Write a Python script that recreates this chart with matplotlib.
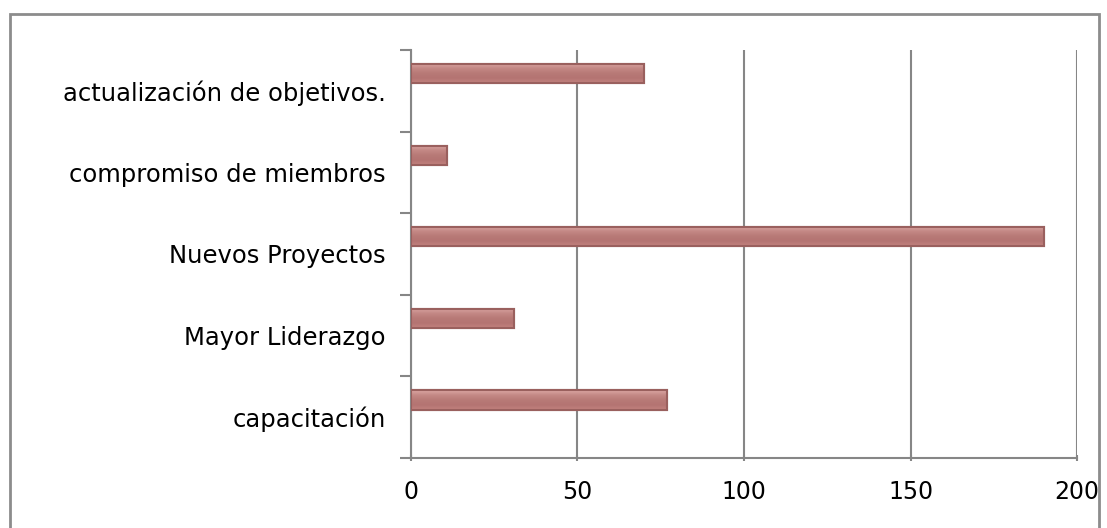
import matplotlib.pyplot as plt
import matplotlib.patches as patches
from matplotlib.colors import LinearSegmentedColormap
import numpy as np

# categories bottom to top, as they appear on the chart
categorias = ["capacitación", "Mayor Liderazgo", "Nuevos Proyectos",
              "compromiso de miembros", "actualización de objetivos."]
valores = [77, 31, 190, 11, 70]
xticks = [0, 50, 100, 150, 200]

plt.rcParams['font.family'] = ['DejaVu Sans']

fig = plt.figure(figsize=(11.07, 5.28), dpi=100)
ax = fig.add_axes([0.371, 0.1326, 0.602, 0.7727])

y = np.arange(len(categorias))
# bars sit in the upper slot of each category band
desplaz = 0.21
bars = ax.barh(y + desplaz, valores, height=0.235, color='#c0807d',
               edgecolor='#9a605e', linewidth=1.5, zorder=3)

# soft vertical shading inside each bar, lighter along the top edge
grad = np.linspace(0, 1, 50).reshape(-1, 1)
cmap = LinearSegmentedColormap.from_list(
    'barra', ['#dba6a3', '#c48986', '#b87a77', '#b47472', '#c2827f'])
for b in bars:
    x0, y0 = b.get_x(), b.get_y()
    w, h = b.get_width(), b.get_height()
    im = ax.imshow(grad, extent=(x0, x0 + w, y0, y0 + h), aspect='auto',
                   cmap=cmap, zorder=3.5, origin='upper')
    im.set_clip_path(b)
    ax.add_patch(patches.Rectangle((x0, y0), w, h, fill=False,
                                   edgecolor='#9a605e', linewidth=1.5, zorder=4))

ax.set_xlim(0, 200)
ax.set_ylim(-0.5, len(categorias) - 0.5)
ax.set_xticks(xticks)
ax.set_xticklabels([str(t) for t in xticks], fontsize=17)

# category boundaries carry the tick marks, labels sit in between
ax.set_yticks(np.arange(-0.5, len(categorias), 1.0))
ax.set_yticklabels([])
ax.set_yticks(y, minor=True)
ax.set_yticklabels(categorias, minor=True, fontsize=17.5)
ax.tick_params(axis='y', which='major', length=8, width=1.5, color='#868686')
ax.tick_params(axis='y', which='minor', length=0, pad=18)
ax.tick_params(axis='x', length=5, width=1.5, color='#868686', pad=13,
               direction='inout')

ax.grid(axis='x', color='#868686', linewidth=1.5, zorder=0)
for s in ['top', 'right']:
    ax.spines[s].set_visible(False)
for s in ['left', 'bottom']:
    ax.spines[s].set_color('#868686')
    ax.spines[s].set_linewidth(1.5)

# chart frame
fig.patches.append(patches.Rectangle((0.009, -0.05), 0.984, 1.024,
                                     transform=fig.transFigure, fill=False,
                                     edgecolor='#8c8c8c', linewidth=2))

fig.savefig('out.png', dpi=100)
